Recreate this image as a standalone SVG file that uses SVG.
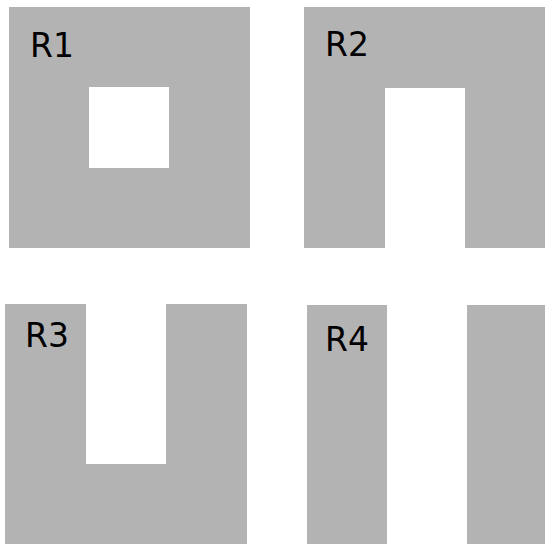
<svg xmlns="http://www.w3.org/2000/svg" width="545" height="544" viewBox="0 0 545 544">
<style>
.r{fill:#b3b3b3;stroke:none}
.t{font-family:"DejaVu Sans",Verdana,sans-serif;font-size:33px;fill:#000}
</style>
<rect width="545" height="544" fill="#fff"/>
<g id="R1">
<path class="r" fill-rule="evenodd" d="M9,7H250V248H9Z M89,87V168H169V87Z"/>
<text class="t" x="30" y="57">R1</text>
</g>
<g id="R2">
<path class="r" d="M304,7H545V248H465V88H385V248H304Z"/>
<text class="t" x="325" y="56">R2</text>
</g>
<g id="R3">
<path class="r" d="M5,304H86V464H166V304H247V544H5Z"/>
<text class="t" x="25" y="347">R3</text>
</g>
<g id="R4">
<rect class="r" x="307" y="305" width="80" height="239"/>
<rect class="r" x="467" y="305" width="78" height="239"/>
<text class="t" x="325" y="351">R4</text>
</g>
<g id="connectors"/>
</svg>
